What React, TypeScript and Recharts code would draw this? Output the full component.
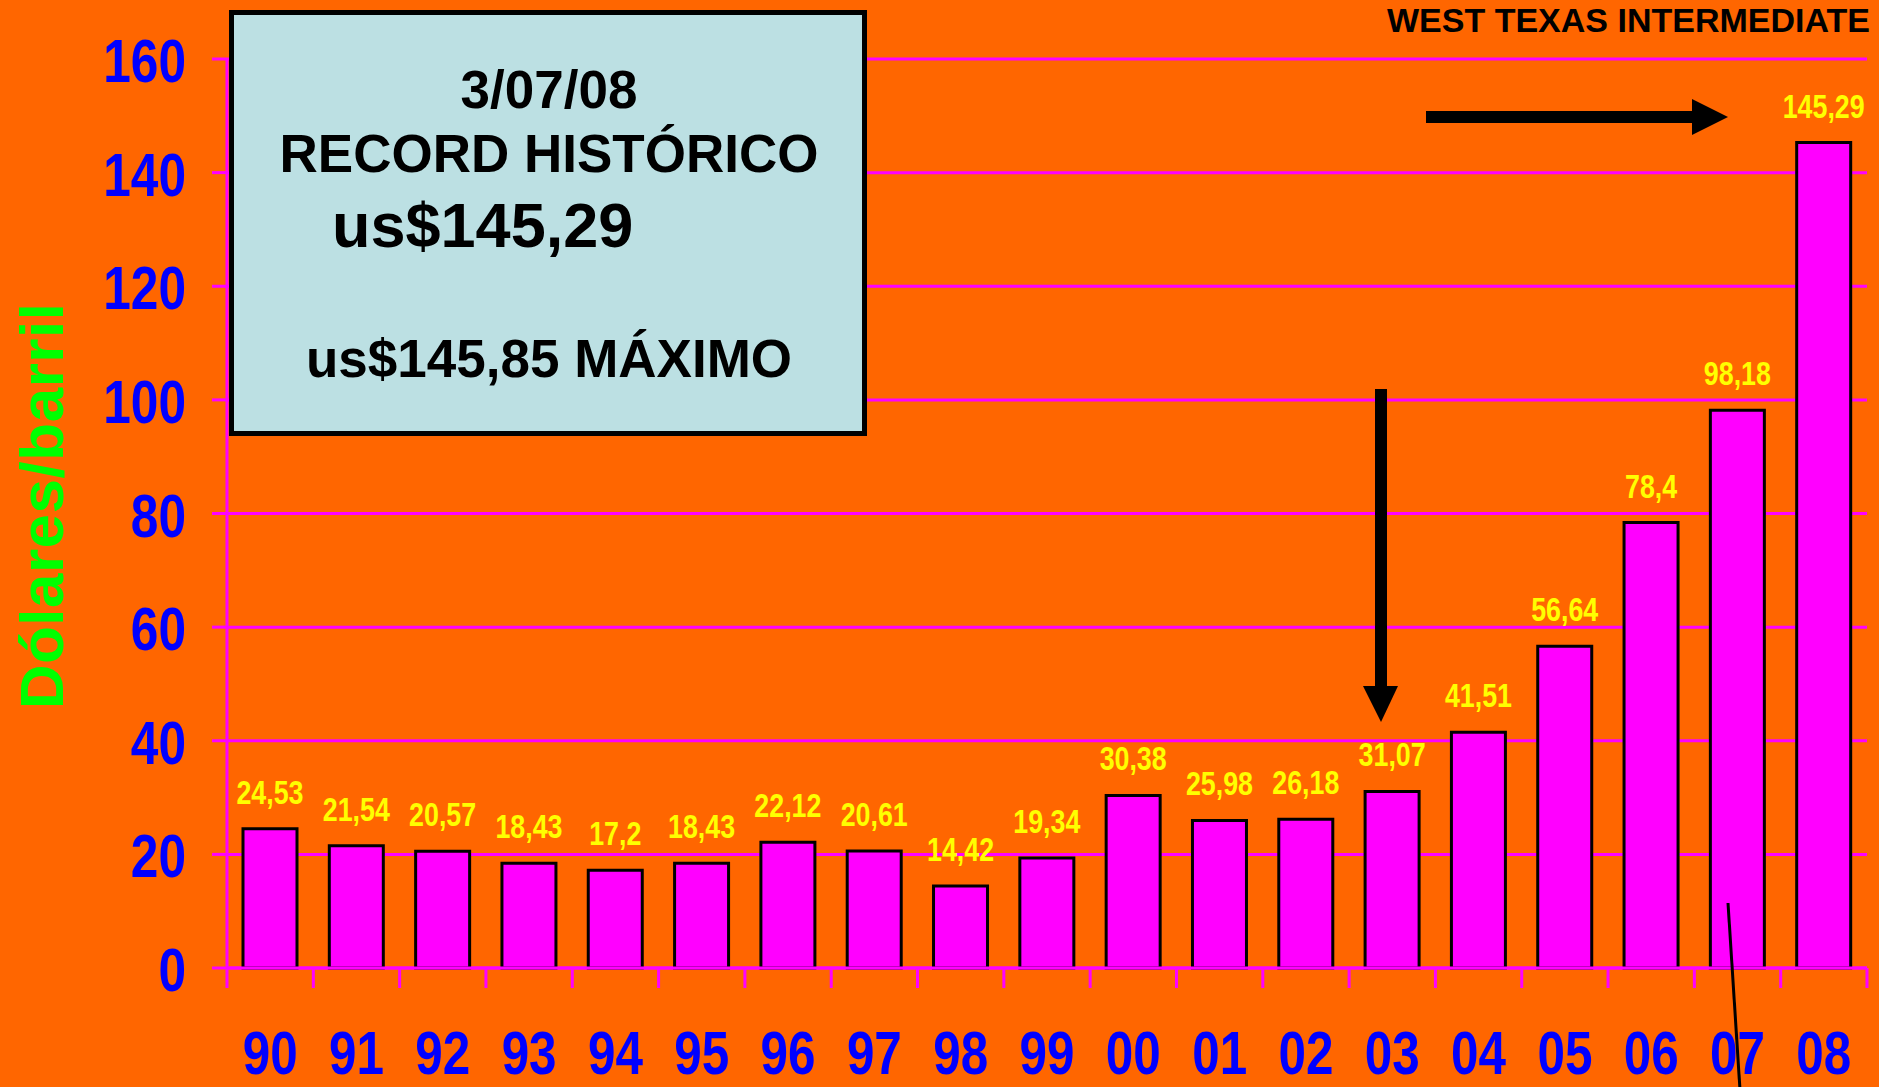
import { BarChart, Bar, XAxis, YAxis, CartesianGrid, LabelList } from "recharts";

const years = ["90", "91", "92", "93", "94", "95", "96", "97", "98", "99", "00", "01", "02", "03", "04", "05", "06", "07", "08"];
const prices = [24.53, 21.54, 20.57, 18.43, 17.2, 18.43, 22.12, 20.61, 14.42, 19.34, 30.38, 25.98, 26.18, 31.07, 41.51, 56.64, 78.4, 98.18, 145.29];
const yTicks = [0, 20, 40, 60, 80, 100, 120, 140, 160];

const W = 1879;
const H = 1087;
const M = { top: 59, right: 12, bottom: 0, left: 0 };
const Y_AXIS_W = 227;
const FONT = "'Liberation Sans', Arial, Helvetica, sans-serif";
const ORANGE = "#FF6600";
const MAGENTA = "#FF00FF";
const BLUE = "#0000FF";

const rows = years.map((year, i) => ({ year, price: prices[i] }));
// ancho de cada categoria, para los ticks entre barras (estilo Excel)
const band = (W - M.left - M.right - Y_AXIS_W) / years.length;

const fmt = (v: number) => String(v).replace(".", ",");

function YTick(props: any) {
  const { x, y, payload } = props;
  return (
    <text
      transform={`translate(${x},${y + 23}) scale(0.8,1)`}
      textAnchor="end"
      fill={BLUE}
      fontSize={62}
      fontWeight="bold"
      fontFamily={FONT}
    >
      {payload.value}
    </text>
  );
}

function XTick(props: any) {
  const { x, y, payload, index } = props;
  const last = index === years.length - 1;
  return (
    <g>
      <line x1={x - band / 2} x2={x - band / 2} y1={y} y2={y + 20} stroke={MAGENTA} strokeWidth={3} />
      {last && <line x1={x + band / 2} x2={x + band / 2} y1={y} y2={y + 20} stroke={MAGENTA} strokeWidth={3} />}
      <text
        transform={`translate(${x},${y + 106}) scale(0.81,1)`}
        textAnchor="middle"
        fill={BLUE}
        fontSize={61}
        fontWeight="bold"
        fontFamily={FONT}
      >
        {payload.value}
      </text>
    </g>
  );
}

function PriceLabel(props: any) {
  const vb = props.viewBox || {};
  const x = Number(props.x ?? vb.x);
  const y = Number(props.y ?? vb.y);
  const w = Number(props.width ?? vb.width);
  return (
    <text
      transform={`translate(${x + w / 2},${y - 25}) scale(0.8,1)`}
      textAnchor="middle"
      fill="#FFFF00"
      fontSize={33.5}
      fontWeight="bold"
      fontFamily={FONT}
    >
      {fmt(props.value)}
    </text>
  );
}

function Overlay() {
  return (
    <svg
      width={W}
      height={H}
      style={{ position: "absolute", left: 0, top: 0, pointerEvents: "none" }}
      fontFamily={FONT}
      fontWeight="bold"
    >
      <text x={1387} y={32} fontSize={34} fill="#000">WEST TEXAS INTERMEDIATE</text>

      <text transform="translate(63,506) rotate(-90)" textAnchor="middle" fontSize={62} letterSpacing={0.5} fill="#00FF00">
        Dólares/barril
      </text>

      <rect x={231.5} y={12.5} width={633} height={421} fill="#BCE0E3" stroke="#000" strokeWidth={5} />
      <text x={549} y={108} textAnchor="middle" fontSize={53} fill="#000">3/07/08</text>
      <text x={549} y={172} textAnchor="middle" fontSize={53} fill="#000">RECORD HISTÓRICO</text>
      <text x={332} y={247} fontSize={63} fill="#000">us$145,29</text>
      <text x={549} y={377} textAnchor="middle" fontSize={53} fill="#000">us$145,85 MÁXIMO</text>

      {/* flecha horizontal hacia el record */}
      <rect x={1426} y={111} width={268} height={12} fill="#000" />
      <polygon points="1692,99 1728,117 1692,135" fill="#000" />

      {/* flecha vertical sobre 03 */}
      <rect x={1375} y={389} width={12} height={299} fill="#000" />
      <polygon points="1363,686 1398,686 1381,722" fill="#000" />

      <line x1={1728} y1={903} x2={1740} y2={1090} stroke="#000" strokeWidth={3} />
    </svg>
  );
}

export default function App() {
  return (
    <div style={{ position: "absolute", left: 0, top: 0, width: W, height: H, background: ORANGE, overflow: "hidden" }}>
      <BarChart width={W} height={H} data={rows} margin={M}>
        <CartesianGrid vertical={false} stroke={MAGENTA} strokeWidth={3} />
        <XAxis
          dataKey="year"
          interval={0}
          height={119}
          tickLine={false}
          tickSize={0}
          tickMargin={0}
          axisLine={{ stroke: MAGENTA, strokeWidth: 3 }}
          tick={XTick}
        />
        <YAxis
          domain={[0, 160]}
          ticks={yTicks}
          width={Y_AXIS_W}
          tickSize={15}
          tickMargin={26}
          tickLine={{ stroke: MAGENTA, strokeWidth: 3 }}
          axisLine={{ stroke: MAGENTA, strokeWidth: 3 }}
          tick={YTick}
        />
        <YAxis
          yAxisId="right"
          orientation="right"
          domain={[0, 160]}
          width={0}
          tick={false}
          tickLine={false}
          axisLine={{ stroke: MAGENTA, strokeWidth: 3 }}
        />
        <Bar dataKey="price" fill={MAGENTA} stroke="#000" strokeWidth={3} barSize={54} isAnimationActive={false}>
          <LabelList dataKey="price" content={PriceLabel} />
        </Bar>
      </BarChart>
      <Overlay />
    </div>
  );
}
